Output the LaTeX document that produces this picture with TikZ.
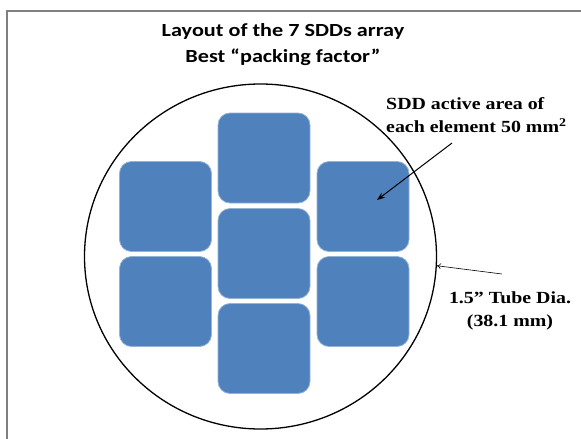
\documentclass[tikz,border=0pt]{standalone}
\usepackage{fontspec}
\setmainfont{Liberation Serif}
\newfontfamily\titlefont[FakeStretch=1.2]{Carlito}
\newfontfamily\notefont[FakeStretch=1.17]{Liberation Serif}
\usetikzlibrary{shapes.geometric,arrows.meta}
\definecolor{sddblue}{HTML}{4F81BD}
\begin{document}
\begin{tikzpicture}[x=1pt,y=-1pt,
        sdd/.style={draw=sddblue!60!white,line width=0.8pt,fill=sddblue,rounded corners=12pt,
            minimum width=92pt,minimum height=90pt,inner sep=0pt},
        note/.style={font=\notefont\bfseries\fontsize{17}{23.5}\selectfont,inner sep=0pt}]
    \useasboundingbox (0,0) rectangle (581,439);
    \draw[gray,line width=1.5pt] (581,11) -- (7,11) -- (7,439);
    \node[align=center,font=\titlefont\bfseries\fontsize{18.5}{26}\selectfont,inner sep=0pt] (title) at (283,45)
        {Layout of the 7 SDDs array\\Best “packing factor”};
    \node[ellipse,draw,line width=1.3pt,minimum width=352pt,minimum height=345pt,inner sep=0pt] (tube) at (260.5,256.5) {};
    \node[sdd] (sddT) at (264,158) {};
    \node[sdd] (sddM) at (264,253.5) {};
    \node[sdd] (sddB) at (264,348.5) {};
    \node[sdd] (sddLU) at (165.5,206.5) {};
    \node[sdd] (sddLD) at (165.5,301.5) {};
    \node[sdd] (sddRU) at (363,206.5) {};
    \node[sdd] (sddRD) at (363,301.5) {};
    \node[note,align=left,anchor=west] (area) at (386,115)
        {SDD active area of\\each element 50 mm\textsuperscript{2}};
    \node[note,align=center] (dia) at (510,311) {1.5” Tube Dia.\\(38.1 mm)};
    \coordinate (areatail) at (452,143);
    \coordinate (areatip) at (377,200);
    \coordinate (diatail) at (502,274);
    \draw[-{Stealth[length=8pt,width=6pt]},line width=1pt] (areatail) -- (areatip);
    \draw[-{To[length=4pt,width=6pt]},line width=0.6pt] (diatail) -- (tube.-3);
\end{tikzpicture}
\end{document}
